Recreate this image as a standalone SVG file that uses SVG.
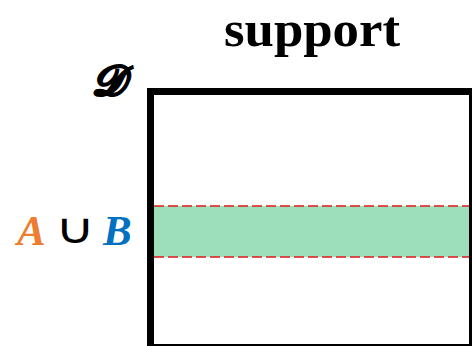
<svg xmlns="http://www.w3.org/2000/svg" width="472" height="346" viewBox="0 0 472 346">
  <style>
    .title { font-family: "Liberation Serif", serif; font-weight: bold; font-size: 50px; fill: #000; }
    .sym { font-family: "Liberation Serif", serif; font-weight: bold; font-style: italic; font-size: 43px; }
    .op { font-family: "DejaVu Sans", sans-serif; font-size: 42px; fill: #000; }
    .edge { fill: none; stroke: #e01818; stroke-width: 1.5; stroke-dasharray: 10 4; }
  </style>
  <rect width="472" height="346" fill="#fff"/>

  <g id="title">
    <text class="title" x="312" y="46" text-anchor="middle" textLength="176" lengthAdjust="spacingAndGlyphs">support</text>
  </g>

  <g id="domain">
    <rect x="150.5" y="91.5" width="322" height="256" fill="#fff" stroke="#000" stroke-width="7"/>
    <text x="108" y="95" text-anchor="middle" font-family="'DejaVu Serif', 'Liberation Serif', serif" font-size="42" font-weight="bold" font-style="italic" stroke="#000" stroke-width="1.2">𝓓</text>
  </g>

  <g id="union-band">
    <rect x="154" y="206" width="315" height="51" fill="#9ddfbb"/>
    <line class="edge" x1="154" y1="206" x2="469" y2="206"/>
    <line class="edge" x1="154" y1="257" x2="469" y2="257"/>
  </g>

  <g id="union-label">
    <text class="sym" x="17" y="245" fill="#ed7d31">A</text>
    <text class="op" text-anchor="middle" transform="translate(75 243) scale(1.3 1)">∪</text>
    <text class="sym" x="103" y="245" fill="#0070c0">B</text>
  </g>
</svg>
